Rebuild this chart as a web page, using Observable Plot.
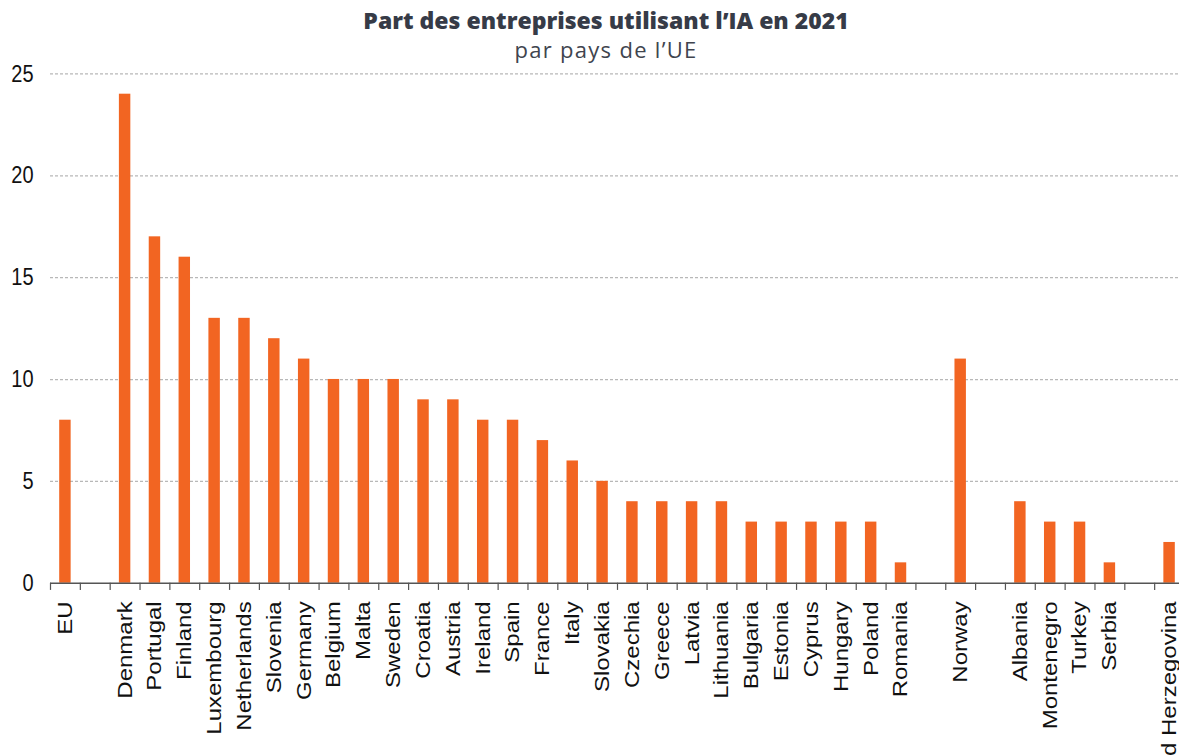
<!DOCTYPE html>
<html>
<head>
<meta charset="utf-8">
<script src="https://cdn.jsdelivr.net/npm/d3@7"></script>
<script src="https://cdn.jsdelivr.net/npm/@observablehq/plot@0.6"></script>
<style>
  html, body { margin: 0; padding: 0; background: #fff; overflow: hidden; width: 1179px; height: 755px; }
  #wrap { position: relative; width: 1179px; height: 755px; overflow: hidden; }
  #title { position: absolute; left: 0; width: 1212px; top: 4px; text-align: center; font-family: "Open Sans", Lato, sans-serif; font-weight: 800; font-size: 23px; color: #363b47; white-space: nowrap; }
  #subtitle { position: absolute; left: 0; width: 1212px; top: 34px; text-align: center; font-family: "Open Sans", Lato, sans-serif; font-size: 22px; letter-spacing: 1.3px; color: #40444e; white-space: nowrap; }
  #chart { position: absolute; left: 0; top: 0; width: 1190px; transform: scaleY(1.2); transform-origin: 0 0; }
  #chart svg { max-width: none !important; }
</style>
</head>
<body>
<div id="wrap">
  <div id="chart"></div>
  <div id="title">Part des entreprises utilisant l’IA en 2021</div>
  <div id="subtitle">par pays de l’UE</div>
</div>
<script>
const countries = ["EU", "", "Denmark", "Portugal", "Finland", "Luxembourg", "Netherlands", "Slovenia", "Germany", "Belgium", "Malta", "Sweden", "Croatia", "Austria", "Ireland", "Spain", "France", "Italy", "Slovakia", "Czechia", "Greece", "Latvia", "Lithuania", "Bulgaria", "Estonia", "Cyprus", "Hungary", "Poland", "Romania", "", "Norway", "", "Albania", "Montenegro", "Turkey", "Serbia", "", "Bosnia and Herzegovina"];
const values = [8, null, 24, 17, 16, 13, 13, 12, 11, 10, 10, 10, 9, 9, 8, 8, 7, 6, 5, 4, 4, 4, 4, 3, 3, 3, 3, 3, 1, null, 11, null, 4, 3, 3, 1, null, 2];
const yTicks = [0, 5, 10, 15, 20, 25];

const slots = countries.map((c, i) => ({i, country: c, value: values[i]}));
const bars = slots.filter(d => d.value != null);
const boundaries = d3.range(0, countries.length + 1);
const centers = slots.map(d => d.i + 0.5);

const chart = Plot.plot({
  width: 1190,
  height: 640,
  marginLeft: 50,
  marginRight: 6,
  marginTop: 61.1,
  marginBottom: 154.4,
  style: {fontFamily: "'Liberation Sans', Arial, sans-serif", fontSize: "20px", color: "#111", background: "transparent", maxWidth: "none"},
  x: {type: "linear", domain: [0, countries.length], axis: null},
  y: {domain: [0, 25], axis: null, label: null},
  marks: [
    Plot.gridY(yTicks.filter(t => t > 0), {stroke: "#b8b8b8", strokeOpacity: 1, strokeDasharray: "3,2", strokeWidth: 1}),
    Plot.rectY(bars, {x1: d => d.i, x2: d => d.i + 1, y: "value", fill: "#F26522", insetLeft: 9.2, insetRight: 9.2}),
    Plot.ruleY([0], {stroke: "#555", strokeWidth: 1.2}),
    Plot.axisX({ticks: boundaries, tickSize: 6, tickFormat: () => "", stroke: "#555", strokeWidth: 1.2, label: null}),
    Plot.axisX({ticks: centers, tickSize: 0, tickPadding: 15, tickRotate: -90, tickFormat: v => countries[Math.floor(v)], fontSize: 20, fill: "#111", label: null}),
    Plot.axisY({ticks: yTicks, tickSize: 0, tickPadding: 17, fontSize: 20, fill: "#111", label: null})
  ]
});
document.getElementById("chart").appendChild(chart);
</script>
</body>
</html>
